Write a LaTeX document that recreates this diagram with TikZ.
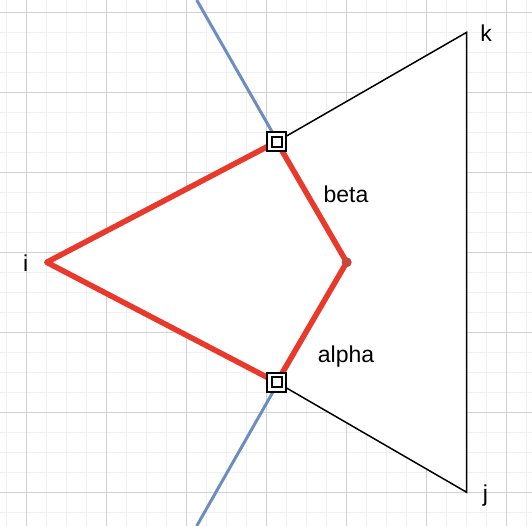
\documentclass[tikz,border=0pt]{standalone}
\usepackage{fontspec}
\setmainfont{Liberation Sans}
\definecolor{edgered}{RGB}{232,57,42}
\definecolor{bisblue}{RGB}{108,142,191}
\definecolor{dotred}{RGB}{196,72,60}
\definecolor{gridmajor}{RGB}{210,210,210}
\definecolor{gridminor}{RGB}{240,240,240}
\tikzset{
  midbox/.style={draw=black, double=white, double distance=2.4pt, line width=2pt,
    fill=white, minimum size=14.4pt, inner sep=0pt},
  lbl/.style={anchor=base, inner sep=0pt}
}
\begin{document}
\begin{tikzpicture}[x=1pt, y=-1pt, font=\fontsize{23}{27}\selectfont]
    \useasboundingbox (0,0) rectangle (532,526);
    % grid
    \foreach \gx in {6.7,26.7,...,526.7} \draw[gridminor, line width=1pt] (\gx,0) -- (\gx,526);
    \foreach \gy in {12.3,32.3,...,512.3} \draw[gridminor, line width=1pt] (0,\gy) -- (532,\gy);
    \foreach \gx in {26.7,106.7,...,506.7} \draw[gridmajor, line width=1pt] (\gx,0) -- (\gx,526);
    \foreach \gy in {12.3,92.3,...,492.3} \draw[gridmajor, line width=1pt] (0,\gy) -- (532,\gy);
    % points
    \coordinate (i) at (46.7,262.3);
    \coordinate (k) at (466.7,32.3);
    \coordinate (j) at (466.7,492.3);
    \coordinate (top) at (196.7,0);
    \coordinate (bot) at (196.7,526);
    \coordinate (c) at (346.7,262.3);
    \coordinate (ab) at (276.7,141.7);
    \coordinate (aa) at (276.7,382.3);
    \fill[white] (i) -- (ab) -- (k) -- (j) -- (aa) -- cycle;
    \draw[line width=1.5pt, line join=miter] (ab) -- (k) -- (j) -- (aa);
    \draw[bisblue, line width=3pt] (top) -- (c) -- (bot);
    \draw[edgered, line width=5.5pt, line join=round] (i) -- (ab) -- (c) -- (aa) -- cycle;
    \node[circle, fill=dotred, minimum size=10pt, inner sep=0pt] (cdot) at (c) {};
    \node[midbox] (sb) at (ab) {};
    \node[midbox] (sa) at (aa) {};
    % labels
    \node[lbl] (li) at (25.7,271.7) {i};
    \node[lbl] (lk) at (486,41.7) {k};
    \node[lbl] (lj) at (485.5,501.7) {j};
    \node[lbl] (lbeta) at (346,202.3) {beta};
    \node[lbl] (lalpha) at (346,362) {alpha};
\end{tikzpicture}
\end{document}
